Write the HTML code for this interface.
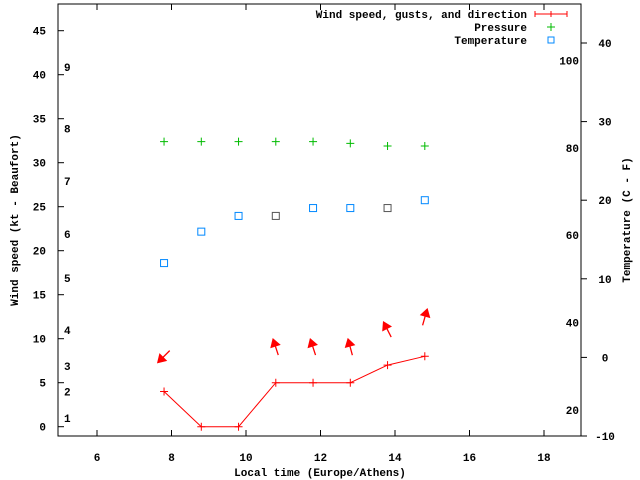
<!DOCTYPE html>
<html><head><meta charset="utf-8"><style>
body{margin:0;background:#fff}
svg{display:block;font-family:"Liberation Mono","DejaVu Sans Mono",monospace;font-size:11px;font-weight:bold}
</style></head><body>
<svg id="c" width="640" height="480" xmlns="http://www.w3.org/2000/svg"></svg>
<script>
const times=[7.8,8.8,9.8,10.8,11.8,12.8,13.8,14.8];
const wind=[4,0,0,5,5,5,7,8];
const gust=[8,null,null,9,9,9,11,12.4];
const dir=[225,null,null,342,342,345,333,16];
const pressure=[32.4,32.4,32.4,32.4,32.4,32.2,31.9,31.9];
const temp=[12,16,18,18,19,19,19,20];
const tempGrey=[false,false,false,true,false,false,true,false];
const xTicks=[6,8,10,12,14,16,18];
const yTicks=[0,5,10,15,20,25,30,35,40,45];
const y2Ticks=[-10,0,10,20,30,40];
const beaufort=[["1",1],["2",4],["3",6.9],["4",11],["5",16.9],["6",21.9],["7",27.9],["8",33.9],["9",40.9]];
const fahr=[["20",-6.67],["40",4.44],["60",15.56],["80",26.67],["100",37.78]];

const L=58,R=581,T=4,B=436;
const X=v=>97+(v-6)*37.25;
const Y=v=>426.7-v*8.8;
const Y2=v=>436-(v+10)*7.86;
const svg=document.getElementById('c');
const NS='http://www.w3.org/2000/svg';
function mk(t,a,p){const e=document.createElementNS(NS,t);for(const k in a)e.setAttribute(k,a[k]);(p||svg).appendChild(e);return e;}
function txt(s,x,y,anchor){const e=mk('text',{x:x,y:y,'text-anchor':anchor||'middle'});e.textContent=s;return e;}

const frame=mk('rect',{x:L,y:T,width:R-L,height:B-T,fill:'none',stroke:'#000'});



xTicks.forEach(v=>{
 const x=X(v);
 mk('line',{x1:x,y1:B,x2:x,y2:B-6,stroke:'#000'});
 mk('line',{x1:x,y1:T,x2:x,y2:T+6,stroke:'#000'});
 const t=txt(String(v),x,461);
 
 
});
yTicks.forEach(v=>{
 const y=Y(v);
 mk('line',{x1:L,y1:y,x2:L+6,y2:y,stroke:'#000'});
 const t=txt(String(v),46,y+4,'end');
 
 
});
y2Ticks.forEach(v=>{
 const y=Y2(v);
 mk('line',{x1:R,y1:y,x2:R+6,y2:y,stroke:'#000'});
 const t=txt(String(v),605,y+4,'middle');
 
 
});
beaufort.forEach(b=>{
 const t=txt(b[0],64,Y(b[1])+4,'start');
 
 
});
fahr.forEach(f=>{
 const t=txt(f[0],579,Y2(f[1])+4,'end');
 
 
});

let t=txt('Local time (Europe/Athens)',320,476);


t=mk('text',{x:0,y:0,'text-anchor':'middle',transform:'translate(18,220) rotate(-90)'});t.textContent='Wind speed (kt - Beaufort)';


t=mk('text',{x:0,y:0,'text-anchor':'middle',transform:'translate(630,220) rotate(-90)'});t.textContent='Temperature (C - F)';



const pts=times.map((x,i)=>X(x)+','+Y(wind[i])).join(' ');
const wl=mk('polyline',{points:pts,fill:'none',stroke:'#f00','stroke-width':1});


times.forEach((x,i)=>{
 const cx=X(x),cy=Y(wind[i]);
 const g=mk('path',{d:`M${cx-4},${cy}h8M${cx},${cy-4}v8`,stroke:'#f00'});
 
 
});
times.forEach((x,i)=>{
 if(gust[i]==null)return;
 const cx=X(x),cy=Y(gust[i]);
 const g=mk('g',{transform:`translate(${cx},${cy}) rotate(${dir[i]})`});
 
 
 mk('line',{x1:0,y1:8,x2:0,y2:-4,stroke:'#f00','stroke-width':1.3},g);
 mk('polygon',{points:'0,-10 -5.5,-1 5.5,-1',fill:'#f00'},g);
});
times.forEach((x,i)=>{
 const cx=X(x),cy=Y(pressure[i]);
 const g=mk('path',{d:`M${cx-4},${cy}h8M${cx},${cy-4}v8`,stroke:'#0b0'});
 
 
});
times.forEach((x,i)=>{
 const cx=X(x),cy=Y2(temp[i]);
 const r=mk('rect',{x:cx-3.5,y:cy-3.5,width:7,height:7,fill:'none',stroke:tempGrey[i]?'#555':'#08f'});
 
 
});
const lg=mk('g',{});


[['Wind speed, gusts, and direction',18],['Pressure',31],['Temperature',44]].forEach(e=>{
 const tt=mk('text',{x:527,y:e[1],'text-anchor':'end'},lg);tt.textContent=e[0];
 
 
});
mk('path',{d:'M535,14h32M535,11v6M567,11v6M551,11v6',stroke:'#f00'},lg);
mk('path',{d:'M547,27h8M551,23v8',stroke:'#0b0'},lg);
mk('rect',{x:548,y:37,width:6,height:6,fill:'none',stroke:'#08f'},lg);
</script>
</body></html>
